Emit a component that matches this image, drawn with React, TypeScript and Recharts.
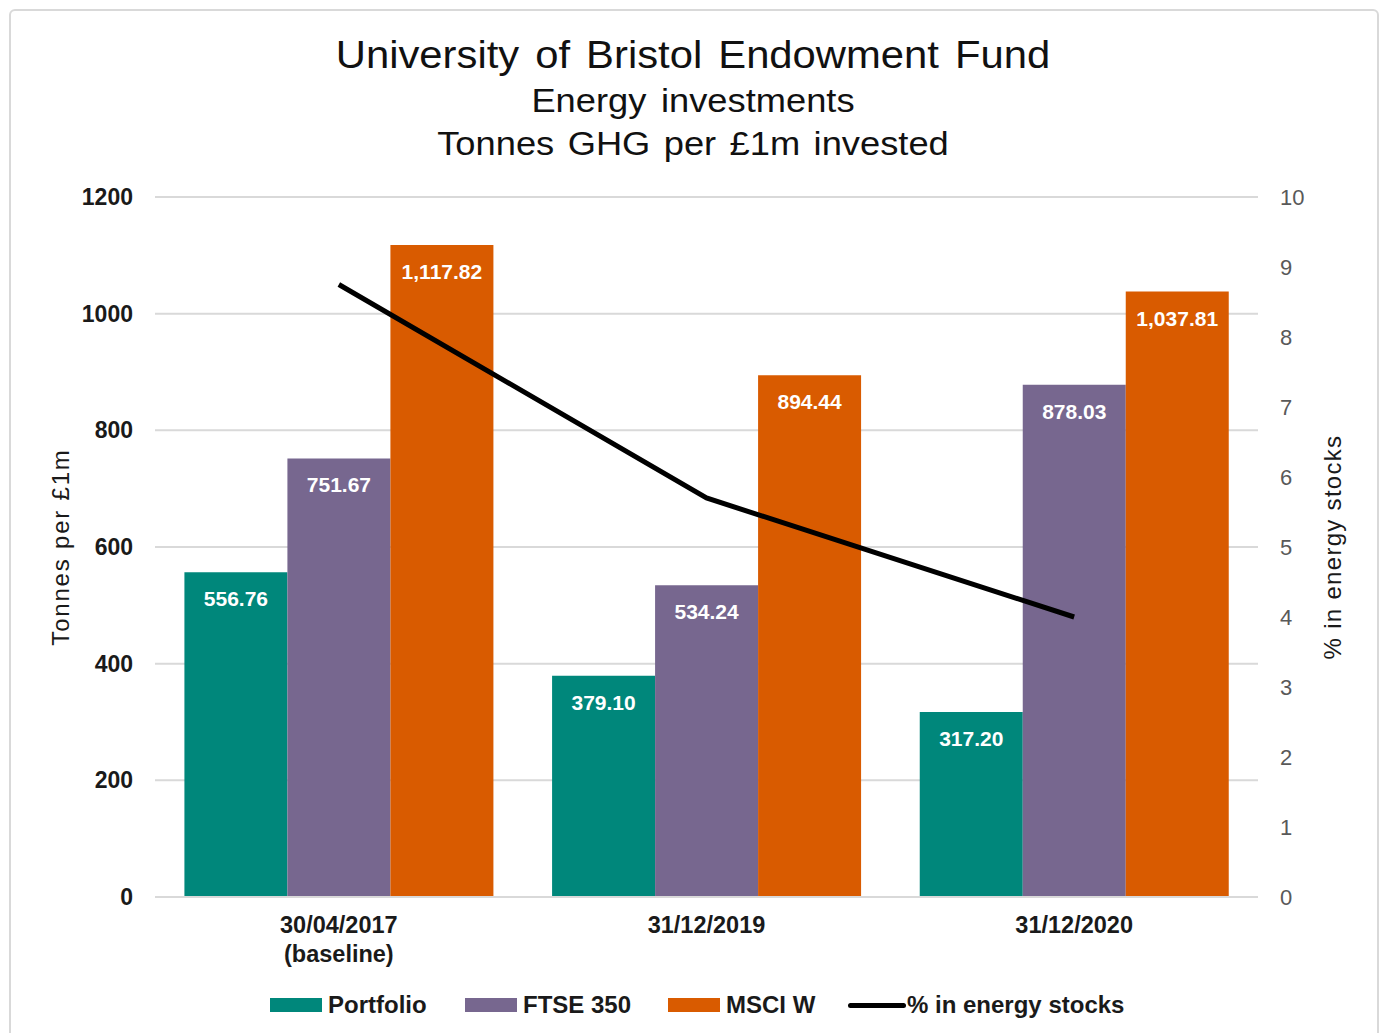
import React from "react";
import {
  ComposedChart,
  Bar,
  Line,
  XAxis,
  YAxis,
  CartesianGrid,
  LabelList,
} from "recharts";

const categories = ["30/04/2017|(baseline)", "31/12/2019", "31/12/2020"];
const portfolio = [556.76, 379.1, 317.2];
const ftse350 = [751.67, 534.24, 878.03];
const msciW = [1117.82, 894.44, 1037.81];
const energyPct = [8.75, 5.7, 4.0];
const leftTicks = [0, 200, 400, 600, 800, 1000, 1200];
const rightTicks = [0, 1, 2, 3, 4, 5, 6, 7, 8, 9, 10];

const COLORS = {
  portfolio: "#00877B",
  ftse: "#77678F",
  msci: "#D95B00",
  line: "#000000",
};

const FONT = "'Liberation Sans', Arial, sans-serif";

const data = categories.map((c, i) => ({
  cat: c,
  portfolio: portfolio[i],
  ftse350: ftse350[i],
  msciW: msciW[i],
  energy: energyPct[i],
}));

const fmt = (v: number) =>
  v.toLocaleString("en-GB", { minimumFractionDigits: 2, maximumFractionDigits: 2 });

const XTick = (props: any) => {
  const { x, y, payload } = props;
  const lines = String(payload.value).split("|");
  return (
    <g transform={`translate(${x},${y})`}>
      {lines.map((l, i) => (
        <text
          key={i}
          x={0}
          y={28 + i * 29}
          textAnchor="middle"
          fontFamily={FONT}
          fontWeight="bold"
          fontSize={23.5}
          fill="#1a1a1a"
        >
          {l}
        </text>
      ))}
    </g>
  );
};

const legendItems = [
  { label: "Portfolio", color: COLORS.portfolio, type: "rect", left: 270 },
  { label: "FTSE 350", color: COLORS.ftse, type: "rect", left: 465 },
  { label: "MSCI W", color: COLORS.msci, type: "rect", left: 668 },
  { label: "% in energy stocks", color: COLORS.line, type: "line", left: 848 },
];

const labelStyle = {
  fill: "#ffffff",
  fontFamily: FONT,
  fontWeight: "bold",
  fontSize: 21,
};

const titleBase: React.CSSProperties = {
  position: "absolute",
  left: 0,
  width: 1386,
  textAlign: "center",
  color: "#111",
  transform: "scaleX(1.1)",
  transformOrigin: "693px 0",
};

export default function App() {
  return (
    <div
      style={{
        position: "absolute",
        left: 0,
        top: 0,
        width: 1383,
        height: 1033,
        background: "#fff",
        overflow: "hidden",
        fontFamily: FONT,
      }}
    >
      <div
        style={{
          position: "absolute",
          left: 9,
          top: 9,
          width: 1366,
          height: 1060,
          border: "2px solid #d9d9d9",
          borderRadius: 6,
        }}
      />
      <div style={{ ...titleBase, top: 32, fontSize: 38, lineHeight: "46px", wordSpacing: 4 }}>
        University of Bristol Endowment Fund
      </div>
      <div style={{ ...titleBase, top: 80, fontSize: 33, lineHeight: "42px", wordSpacing: 4 }}>
        Energy investments
      </div>
      <div style={{ ...titleBase, top: 123, fontSize: 33, lineHeight: "42px", wordSpacing: 3 }}>
        Tonnes GHG per £1m invested
      </div>
      <div style={{ position: "absolute", left: 0, top: 0 }}>
        <ComposedChart
          width={1383}
          height={1033}
          data={data}
          margin={{ top: 197, right: 45, bottom: 46, left: 75 }}
          barCategoryGap="8%"
          barGap={0}
        >
          <CartesianGrid
            vertical={false}
            stroke="#d9d9d9"
            strokeWidth={2}
            yAxisId="left"
          />
          <XAxis
            dataKey="cat"
            height={90}
            tick={<XTick />}
            tickLine={false}
            axisLine={{ stroke: "#d9d9d9", strokeWidth: 2 }}
            interval={0}
          />
          <YAxis
            yAxisId="left"
            orientation="left"
            width={80}
            domain={[0, 1200]}
            ticks={leftTicks}
            tickLine={false}
            axisLine={false}
            tickMargin={16}
            tick={{
              fontFamily: FONT,
              fontWeight: "bold",
              fontSize: 23,
              fill: "#1a1a1a",
            }}
            label={{
              value: "Tonnes per £1m",
              angle: -90,
              position: "insideLeft",
              offset: -15,
              style: {
                textAnchor: "middle",
                fontFamily: FONT,
                fontSize: 24,
                letterSpacing: 1.8,
                fill: "#1a1a1a",
              },
            }}
          />
          <YAxis
            yAxisId="right"
            orientation="right"
            width={80}
            domain={[0, 10]}
            ticks={rightTicks}
            tickLine={false}
            axisLine={false}
            tickMargin={16}
            tick={{
              fontFamily: FONT,
              fontSize: 22,
              fill: "#595959",
              textAnchor: "start",
            }}
            label={{
              value: "% in energy stocks",
              angle: -90,
              position: "insideRight",
              offset: 6,
              style: {
                textAnchor: "middle",
                fontFamily: FONT,
                fontSize: 24,
                letterSpacing: 1.3,
                fill: "#1a1a1a",
              },
            }}
          />
          <Bar
            yAxisId="left"
            dataKey="portfolio"
            fill={COLORS.portfolio}
            isAnimationActive={false}
          >
            <LabelList
              dataKey="portfolio"
              position="insideTop"
              offset={19}
              formatter={(v: any) => fmt(Number(v))}
              style={labelStyle}
            />
          </Bar>
          <Bar
            yAxisId="left"
            dataKey="ftse350"
            fill={COLORS.ftse}
            isAnimationActive={false}
          >
            <LabelList
              dataKey="ftse350"
              position="insideTop"
              offset={19}
              formatter={(v: any) => fmt(Number(v))}
              style={labelStyle}
            />
          </Bar>
          <Bar
            yAxisId="left"
            dataKey="msciW"
            fill={COLORS.msci}
            isAnimationActive={false}
          >
            <LabelList
              dataKey="msciW"
              position="insideTop"
              offset={19}
              formatter={(v: any) => fmt(Number(v))}
              style={labelStyle}
            />
          </Bar>
          <Line
            yAxisId="right"
            dataKey="energy"
            type="linear"
            stroke={COLORS.line}
            strokeWidth={5}
            dot={false}
            activeDot={false}
            isAnimationActive={false}
          />
        </ComposedChart>
      </div>
      {legendItems.map((it, i) => (
        <div
          key={i}
          style={{
            position: "absolute",
            left: it.left,
            top: 990,
            height: 30,
            display: "flex",
            alignItems: "center",
            fontSize: 24,
            fontWeight: "bold",
            color: "#1a1a1a",
            whiteSpace: "nowrap",
          }}
        >
          {it.type === "rect" ? (
            <div
              style={{
                width: 52,
                height: 14,
                background: it.color,
                marginRight: 6,
              }}
            />
          ) : (
            <div
              style={{
                width: 58,
                height: 5,
                borderRadius: 3,
                background: it.color,
                marginRight: 1,
              }}
            />
          )}
          <span>{it.label}</span>
        </div>
      ))}
    </div>
  );
}
